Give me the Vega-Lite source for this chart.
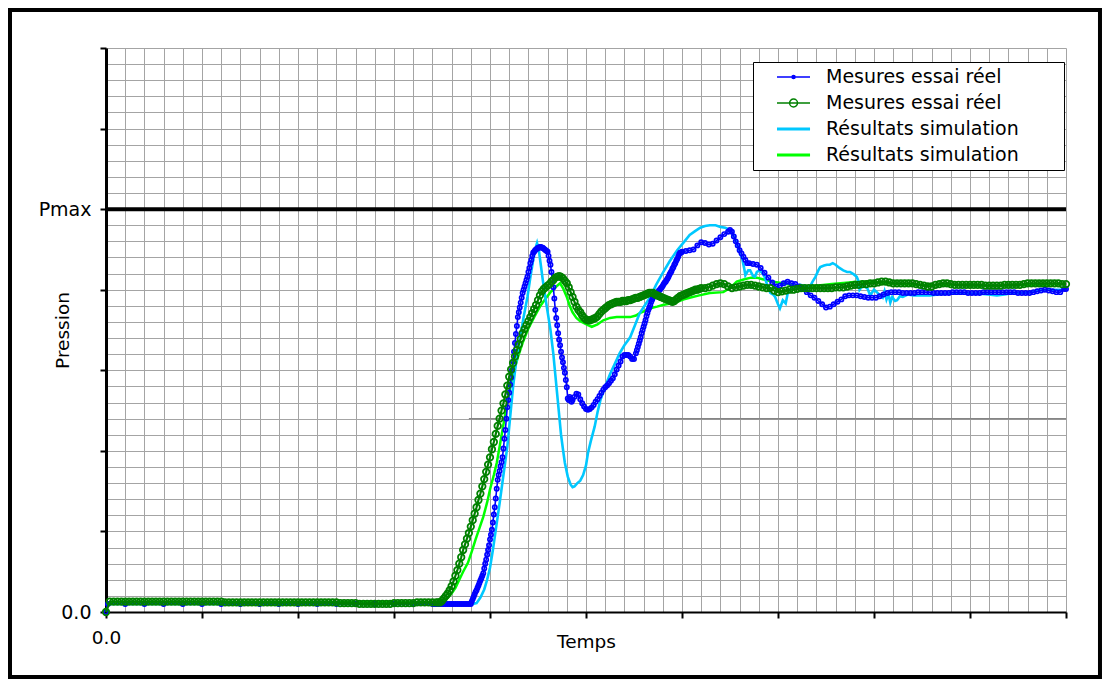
{
"$schema": "https://vega.github.io/schema/vega-lite/v6.json",
"width": 960, "height": 564,
"autosize": {"type": "none"},
"padding": {"left": 106, "top": 48, "right": 38, "bottom": 68},
"background": "white",
"config": {"view": {"stroke": null}, "font": "DejaVu Sans"},
"datasets": {
"blue": [
{"t":0,"v":0},{"t":0.02,"v":0.1},{"t":0.2,"v":0.1},{"t":0.4,"v":0.1},{"t":0.6,"v":0.1},{"t":0.8,"v":0.1},{"t":1,"v":0.1},{"t":1.2,"v":0.1},{"t":1.4,"v":0.1},{"t":1.6,"v":0.1},{"t":1.8,"v":0.1},{"t":2,"v":0.1},{"t":2.2,"v":0.1},{"t":2.4,"v":0.1},{"t":2.6,"v":0.1},{"t":2.8,"v":0.1},{"t":3,"v":0.1},{"t":3.2,"v":0.1},{"t":3.4,"v":0.1},
{"t":3.42,"v":0.1},{"t":3.44,"v":0.1},{"t":3.46,"v":0.1},{"t":3.48,"v":0.1},{"t":3.5,"v":0.1},{"t":3.52,"v":0.1},{"t":3.54,"v":0.1},{"t":3.56,"v":0.1},{"t":3.58,"v":0.1},{"t":3.6,"v":0.1},{"t":3.62,"v":0.1},{"t":3.64,"v":0.1},{"t":3.66,"v":0.1},{"t":3.68,"v":0.1},{"t":3.7,"v":0.1},{"t":3.72,"v":0.1},{"t":3.74,"v":0.1},{"t":3.76,"v":0.1},{"t":3.78,"v":0.1},{"t":3.8,"v":0.1},
{"t":3.81,"v":0.13},{"t":3.82,"v":0.16},{"t":3.83,"v":0.19},{"t":3.84,"v":0.22},{"t":3.85,"v":0.25},{"t":3.86,"v":0.27},{"t":3.87,"v":0.3},{"t":3.88,"v":0.33},{"t":3.89,"v":0.36},{"t":3.9,"v":0.39},
{"t":3.91,"v":0.42},{"t":3.92,"v":0.45},{"t":3.93,"v":0.48},{"t":3.94,"v":0.54},{"t":3.95,"v":0.6},{"t":3.96,"v":0.65},{"t":3.97,"v":0.71},{"t":3.98,"v":0.77},{"t":3.99,"v":0.83},{"t":4,"v":0.9},
{"t":4.01,"v":0.96},{"t":4.02,"v":1.02},{"t":4.03,"v":1.11},{"t":4.04,"v":1.21},{"t":4.05,"v":1.3},{"t":4.06,"v":1.41},{"t":4.07,"v":1.53},{"t":4.08,"v":1.64},{"t":4.09,"v":1.7},{"t":4.1,"v":1.75},
{"t":4.11,"v":1.81},{"t":4.12,"v":1.86},{"t":4.13,"v":1.92},{"t":4.14,"v":2.03},{"t":4.15,"v":2.15},{"t":4.16,"v":2.26},{"t":4.17,"v":2.4},{"t":4.18,"v":2.54},{"t":4.19,"v":2.63},{"t":4.2,"v":2.72},
{"t":4.21,"v":2.82},{"t":4.22,"v":2.91},{"t":4.23,"v":3},{"t":4.24,"v":3.11},{"t":4.25,"v":3.23},{"t":4.26,"v":3.34},{"t":4.27,"v":3.45},{"t":4.28,"v":3.55},{"t":4.29,"v":3.66},{"t":4.3,"v":3.72},
{"t":4.31,"v":3.78},{"t":4.32,"v":3.84},{"t":4.33,"v":3.9},{"t":4.34,"v":3.96},{"t":4.35,"v":4},{"t":4.36,"v":4.04},{"t":4.37,"v":4.08},{"t":4.38,"v":4.12},{"t":4.39,"v":4.16},{"t":4.4,"v":4.22},
{"t":4.41,"v":4.27},{"t":4.42,"v":4.33},{"t":4.43,"v":4.37},{"t":4.44,"v":4.42},{"t":4.45,"v":4.46},{"t":4.46,"v":4.47},{"t":4.47,"v":4.49},{"t":4.48,"v":4.5},{"t":4.49,"v":4.51},{"t":4.5,"v":4.52},
{"t":4.51,"v":4.52},{"t":4.52,"v":4.53},{"t":4.53,"v":4.53},{"t":4.54,"v":4.52},{"t":4.55,"v":4.52},{"t":4.56,"v":4.51},{"t":4.57,"v":4.5},{"t":4.58,"v":4.49},{"t":4.59,"v":4.48},{"t":4.6,"v":4.47},
{"t":4.61,"v":4.42},{"t":4.62,"v":4.36},{"t":4.63,"v":4.31},{"t":4.64,"v":4.22},{"t":4.65,"v":4.12},{"t":4.66,"v":4.03},{"t":4.67,"v":3.89},{"t":4.68,"v":3.75},{"t":4.69,"v":3.65},{"t":4.7,"v":3.56},
{"t":4.71,"v":3.46},{"t":4.72,"v":3.38},{"t":4.73,"v":3.31},{"t":4.74,"v":3.23},{"t":4.75,"v":3.16},{"t":4.76,"v":3.1},{"t":4.77,"v":3.03},{"t":4.78,"v":2.97},{"t":4.79,"v":2.88},{"t":4.8,"v":2.79},
{"t":4.81,"v":2.65},{"t":4.82,"v":2.63},{"t":4.83,"v":2.67},{"t":4.84,"v":2.65},{"t":4.85,"v":2.61},{"t":4.86,"v":2.63},
{"t":4.88,"v":2.67},{"t":4.9,"v":2.71},{"t":4.92,"v":2.7},{"t":4.94,"v":2.64},{"t":4.96,"v":2.59},{"t":4.98,"v":2.55},{"t":5,"v":2.52},{"t":5.02,"v":2.51},{"t":5.04,"v":2.52},{"t":5.06,"v":2.54},
{"t":5.08,"v":2.57},{"t":5.1,"v":2.61},{"t":5.12,"v":2.64},{"t":5.14,"v":2.68},{"t":5.16,"v":2.72},{"t":5.18,"v":2.76},{"t":5.2,"v":2.79},{"t":5.22,"v":2.81},{"t":5.24,"v":2.84},{"t":5.26,"v":2.87},
{"t":5.28,"v":2.9},{"t":5.3,"v":2.95},{"t":5.32,"v":3.01},{"t":5.34,"v":3.06},{"t":5.36,"v":3.11},{"t":5.38,"v":3.17},{"t":5.4,"v":3.19},{"t":5.42,"v":3.19},{"t":5.44,"v":3.19},{"t":5.46,"v":3.17},
{"t":5.48,"v":3.14},{"t":5.5,"v":3.14},{"t":5.52,"v":3.21},{"t":5.53,"v":3.25},{"t":5.54,"v":3.29},{"t":5.55,"v":3.33},{"t":5.56,"v":3.37},{"t":5.57,"v":3.41},{"t":5.58,"v":3.46},{"t":5.59,"v":3.5},
{"t":5.6,"v":3.54},{"t":5.61,"v":3.58},{"t":5.62,"v":3.62},{"t":5.63,"v":3.67},{"t":5.64,"v":3.71},{"t":5.65,"v":3.75},{"t":5.66,"v":3.78},{"t":5.67,"v":3.81},{"t":5.68,"v":3.85},{"t":5.69,"v":3.88},
{"t":5.7,"v":3.91},{"t":5.71,"v":3.92},{"t":5.72,"v":3.94},{"t":5.73,"v":3.95},{"t":5.74,"v":3.96},{"t":5.75,"v":3.97},{"t":5.76,"v":3.99},{"t":5.77,"v":4},{"t":5.78,"v":4.02},{"t":5.79,"v":4.03},
{"t":5.8,"v":4.05},{"t":5.81,"v":4.07},{"t":5.82,"v":4.09},{"t":5.83,"v":4.1},{"t":5.84,"v":4.12},{"t":5.85,"v":4.14},{"t":5.86,"v":4.16},{"t":5.87,"v":4.19},{"t":5.88,"v":4.21},{"t":5.89,"v":4.23},
{"t":5.9,"v":4.26},{"t":5.91,"v":4.28},{"t":5.92,"v":4.31},{"t":5.93,"v":4.33},{"t":5.94,"v":4.36},{"t":5.95,"v":4.38},{"t":5.96,"v":4.41},{"t":5.97,"v":4.44},{"t":5.98,"v":4.46},{"t":5.99,"v":4.46},
{"t":6,"v":4.47},{"t":6.04,"v":4.48},{"t":6.08,"v":4.49},{"t":6.12,"v":4.5},{"t":6.16,"v":4.55},{"t":6.2,"v":4.59},{"t":6.24,"v":4.58},{"t":6.28,"v":4.56},{"t":6.32,"v":4.57},{"t":6.36,"v":4.61},
{"t":6.4,"v":4.65},{"t":6.44,"v":4.69},{"t":6.48,"v":4.72},{"t":6.5,"v":4.74},{"t":6.52,"v":4.72},{"t":6.54,"v":4.66},{"t":6.56,"v":4.6},{"t":6.58,"v":4.55},{"t":6.6,"v":4.49},{"t":6.62,"v":4.45},
{"t":6.64,"v":4.41},{"t":6.66,"v":4.37},{"t":6.68,"v":4.33},{"t":6.7,"v":4.33},{"t":6.74,"v":4.32},{"t":6.78,"v":4.31},{"t":6.82,"v":4.27},{"t":6.86,"v":4.21},{"t":6.9,"v":4.15},{"t":6.94,"v":4.09},
{"t":6.98,"v":4.04},{"t":7.02,"v":4.05},{"t":7.06,"v":4.08},{"t":7.1,"v":4.1},{"t":7.14,"v":4.08},{"t":7.18,"v":4.07},{"t":7.22,"v":4.04},{"t":7.26,"v":4.01},{"t":7.3,"v":3.97},{"t":7.34,"v":3.93},
{"t":7.38,"v":3.9},{"t":7.42,"v":3.86},{"t":7.46,"v":3.82},{"t":7.5,"v":3.78},{"t":7.54,"v":3.79},{"t":7.58,"v":3.82},{"t":7.62,"v":3.85},{"t":7.66,"v":3.88},{"t":7.7,"v":3.92},{"t":7.74,"v":3.93},
{"t":7.78,"v":3.93},{"t":7.82,"v":3.93},{"t":7.86,"v":3.92},{"t":7.9,"v":3.91},{"t":7.94,"v":3.9},{"t":7.98,"v":3.9},{"t":8.02,"v":3.9},{"t":8.06,"v":3.92},{"t":8.1,"v":3.94},{"t":8.14,"v":3.96},
{"t":8.18,"v":3.97},{"t":8.22,"v":3.97},{"t":8.26,"v":3.97},{"t":8.3,"v":3.96},{"t":8.34,"v":3.96},{"t":8.38,"v":3.96},{"t":8.42,"v":3.96},{"t":8.46,"v":3.97},{"t":8.5,"v":3.97},{"t":8.54,"v":3.97},
{"t":8.58,"v":3.97},{"t":8.62,"v":3.96},{"t":8.66,"v":3.96},{"t":8.7,"v":3.96},{"t":8.74,"v":3.96},{"t":8.78,"v":3.96},{"t":8.82,"v":3.97},{"t":8.86,"v":3.97},{"t":8.9,"v":3.97},{"t":8.94,"v":3.97},
{"t":8.98,"v":3.96},{"t":9.02,"v":3.96},{"t":9.06,"v":3.96},{"t":9.1,"v":3.96},{"t":9.14,"v":3.97},{"t":9.18,"v":3.97},{"t":9.22,"v":3.97},{"t":9.26,"v":3.97},{"t":9.3,"v":3.97},{"t":9.34,"v":3.97},
{"t":9.38,"v":3.97},{"t":9.42,"v":3.97},{"t":9.46,"v":3.97},{"t":9.5,"v":3.96},{"t":9.54,"v":3.96},{"t":9.58,"v":3.96},{"t":9.62,"v":3.96},{"t":9.66,"v":3.97},{"t":9.7,"v":3.98},{"t":9.74,"v":3.99},
{"t":9.78,"v":4},{"t":9.82,"v":3.99},{"t":9.86,"v":3.98},{"t":9.9,"v":3.97},{"t":9.94,"v":3.97},{"t":9.98,"v":4.01},{"t":10,"v":4.01}
],
"green": [
{"t":0,"v":0},{"t":0.04,"v":0.13},{"t":0.08,"v":0.13},{"t":0.12,"v":0.13},{"t":0.16,"v":0.13},{"t":0.2,"v":0.13},{"t":0.24,"v":0.13},{"t":0.28,"v":0.13},{"t":0.32,"v":0.13},{"t":0.36,"v":0.13},{"t":0.4,"v":0.13},
{"t":0.44,"v":0.13},{"t":0.48,"v":0.13},{"t":0.52,"v":0.13},{"t":0.56,"v":0.13},{"t":0.6,"v":0.13},{"t":0.64,"v":0.13},{"t":0.68,"v":0.13},{"t":0.72,"v":0.13},{"t":0.76,"v":0.13},{"t":0.8,"v":0.13},
{"t":0.84,"v":0.13},{"t":0.88,"v":0.13},{"t":0.92,"v":0.13},{"t":0.96,"v":0.13},{"t":1,"v":0.13},{"t":1.04,"v":0.13},{"t":1.08,"v":0.13},{"t":1.12,"v":0.13},{"t":1.16,"v":0.13},{"t":1.2,"v":0.13},
{"t":1.24,"v":0.12},{"t":1.28,"v":0.12},{"t":1.32,"v":0.12},{"t":1.36,"v":0.12},{"t":1.4,"v":0.12},{"t":1.44,"v":0.12},{"t":1.48,"v":0.12},{"t":1.52,"v":0.12},{"t":1.56,"v":0.12},{"t":1.6,"v":0.12},
{"t":1.64,"v":0.12},{"t":1.68,"v":0.12},{"t":1.72,"v":0.12},{"t":1.76,"v":0.12},{"t":1.8,"v":0.12},{"t":1.84,"v":0.12},{"t":1.88,"v":0.12},{"t":1.92,"v":0.12},{"t":1.96,"v":0.12},{"t":2,"v":0.12},
{"t":2.04,"v":0.12},{"t":2.08,"v":0.12},{"t":2.12,"v":0.12},{"t":2.16,"v":0.12},{"t":2.2,"v":0.12},{"t":2.24,"v":0.12},{"t":2.28,"v":0.12},{"t":2.32,"v":0.12},{"t":2.36,"v":0.12},{"t":2.4,"v":0.12},
{"t":2.44,"v":0.11},{"t":2.48,"v":0.11},{"t":2.52,"v":0.11},{"t":2.56,"v":0.11},{"t":2.6,"v":0.11},{"t":2.64,"v":0.1},{"t":2.68,"v":0.1},{"t":2.72,"v":0.1},{"t":2.76,"v":0.1},{"t":2.8,"v":0.1},
{"t":2.84,"v":0.1},{"t":2.88,"v":0.1},{"t":2.92,"v":0.1},{"t":2.96,"v":0.1},{"t":3,"v":0.11},{"t":3.04,"v":0.11},{"t":3.08,"v":0.11},{"t":3.12,"v":0.11},{"t":3.16,"v":0.11},{"t":3.2,"v":0.11},
{"t":3.24,"v":0.12},{"t":3.28,"v":0.12},{"t":3.32,"v":0.12},{"t":3.36,"v":0.12},{"t":3.4,"v":0.12},{"t":3.44,"v":0.12},
{"t":3.46,"v":0.12},{"t":3.48,"v":0.12},{"t":3.5,"v":0.14},{"t":3.52,"v":0.17},{"t":3.54,"v":0.2},{"t":3.56,"v":0.23},{"t":3.58,"v":0.27},{"t":3.6,"v":0.32},{"t":3.62,"v":0.38},{"t":3.64,"v":0.45},
{"t":3.66,"v":0.52},{"t":3.68,"v":0.6},{"t":3.7,"v":0.68},{"t":3.72,"v":0.77},{"t":3.74,"v":0.84},{"t":3.76,"v":0.91},{"t":3.78,"v":0.98},{"t":3.8,"v":1.06},{"t":3.82,"v":1.14},{"t":3.84,"v":1.22},
{"t":3.86,"v":1.3},{"t":3.88,"v":1.39},{"t":3.9,"v":1.47},{"t":3.92,"v":1.56},{"t":3.94,"v":1.65},{"t":3.96,"v":1.74},{"t":3.98,"v":1.83},{"t":4,"v":1.92},{"t":4.02,"v":2.02},{"t":4.04,"v":2.11},
{"t":4.06,"v":2.21},{"t":4.08,"v":2.31},{"t":4.1,"v":2.4},{"t":4.12,"v":2.5},{"t":4.14,"v":2.59},{"t":4.16,"v":2.7},{"t":4.18,"v":2.81},{"t":4.2,"v":2.92},{"t":4.22,"v":3.01},{"t":4.24,"v":3.09},
{"t":4.26,"v":3.17},{"t":4.28,"v":3.25},{"t":4.3,"v":3.32},{"t":4.32,"v":3.39},{"t":4.34,"v":3.46},{"t":4.36,"v":3.51},{"t":4.38,"v":3.56},{"t":4.4,"v":3.61},{"t":4.42,"v":3.66},{"t":4.44,"v":3.71},
{"t":4.46,"v":3.76},{"t":4.48,"v":3.81},{"t":4.5,"v":3.87},{"t":4.52,"v":3.93},{"t":4.54,"v":3.98},{"t":4.56,"v":4.01},{"t":4.58,"v":4.03},{"t":4.6,"v":4.05},{"t":4.62,"v":4.07},{"t":4.64,"v":4.1},
{"t":4.66,"v":4.12},{"t":4.68,"v":4.15},{"t":4.7,"v":4.16},{"t":4.72,"v":4.17},{"t":4.74,"v":4.16},{"t":4.76,"v":4.14},{"t":4.78,"v":4.11},{"t":4.8,"v":4.08},{"t":4.82,"v":4.03},{"t":4.84,"v":3.97},
{"t":4.86,"v":3.91},{"t":4.88,"v":3.85},{"t":4.9,"v":3.79},{"t":4.92,"v":3.75},{"t":4.94,"v":3.72},{"t":4.96,"v":3.68},{"t":4.98,"v":3.65},{"t":5,"v":3.63},{"t":5.02,"v":3.62},{"t":5.04,"v":3.62},
{"t":5.06,"v":3.63},{"t":5.08,"v":3.64},{"t":5.1,"v":3.65},{"t":5.12,"v":3.67},{"t":5.14,"v":3.7},{"t":5.16,"v":3.73},{"t":5.18,"v":3.75},{"t":5.2,"v":3.77},{"t":5.22,"v":3.79},{"t":5.24,"v":3.81},
{"t":5.26,"v":3.82},{"t":5.28,"v":3.83},{"t":5.3,"v":3.84},{"t":5.32,"v":3.85},{"t":5.34,"v":3.85},{"t":5.36,"v":3.85},{"t":5.38,"v":3.86},{"t":5.4,"v":3.86},{"t":5.42,"v":3.86},{"t":5.44,"v":3.87},
{"t":5.46,"v":3.87},{"t":5.48,"v":3.88},{"t":5.5,"v":3.89},{"t":5.52,"v":3.9},{"t":5.54,"v":3.9},{"t":5.56,"v":3.91},{"t":5.58,"v":3.92},{"t":5.6,"v":3.93},{"t":5.62,"v":3.94},{"t":5.64,"v":3.95},
{"t":5.66,"v":3.96},{"t":5.68,"v":3.96},{"t":5.7,"v":3.96},{"t":5.72,"v":3.94},{"t":5.74,"v":3.93},{"t":5.76,"v":3.92},{"t":5.78,"v":3.91},{"t":5.8,"v":3.9},{"t":5.82,"v":3.89},{"t":5.84,"v":3.88},
{"t":5.86,"v":3.87},{"t":5.88,"v":3.86},{"t":5.9,"v":3.85},{"t":5.92,"v":3.86},{"t":5.94,"v":3.88},{"t":5.96,"v":3.9},{"t":5.98,"v":3.92},{"t":6,"v":3.93},{"t":6.02,"v":3.94},{"t":6.04,"v":3.95},
{"t":6.06,"v":3.96},{"t":6.08,"v":3.97},{"t":6.1,"v":3.98},{"t":6.12,"v":3.99},{"t":6.14,"v":4},{"t":6.16,"v":4},{"t":6.18,"v":4.01},{"t":6.2,"v":4.02},
{"t":6.24,"v":4.02},{"t":6.28,"v":4.03},{"t":6.32,"v":4.05},{"t":6.36,"v":4.07},{"t":6.4,"v":4.08},{"t":6.44,"v":4.07},{"t":6.48,"v":4.04},{"t":6.52,"v":4.02},{"t":6.56,"v":4.03},{"t":6.6,"v":4.04},
{"t":6.64,"v":4.05},{"t":6.68,"v":4.06},{"t":6.72,"v":4.06},{"t":6.76,"v":4.05},{"t":6.8,"v":4.04},{"t":6.84,"v":4.03},{"t":6.88,"v":4.02},{"t":6.92,"v":4.02},{"t":6.96,"v":3.99},{"t":7,"v":3.97},
{"t":7.04,"v":3.98},{"t":7.08,"v":3.99},{"t":7.12,"v":4},{"t":7.16,"v":4},{"t":7.2,"v":4.01},{"t":7.24,"v":4.02},{"t":7.28,"v":4.02},{"t":7.32,"v":4.02},{"t":7.36,"v":4.02},{"t":7.4,"v":4.02},
{"t":7.44,"v":4.02},{"t":7.48,"v":4.02},{"t":7.52,"v":4.02},{"t":7.56,"v":4.02},{"t":7.6,"v":4.03},{"t":7.64,"v":4.03},{"t":7.68,"v":4.03},{"t":7.72,"v":4.04},{"t":7.76,"v":4.05},{"t":7.8,"v":4.06},
{"t":7.84,"v":4.06},{"t":7.88,"v":4.07},{"t":7.92,"v":4.07},{"t":7.96,"v":4.08},{"t":8,"v":4.08},{"t":8.04,"v":4.09},{"t":8.08,"v":4.1},{"t":8.12,"v":4.1},{"t":8.16,"v":4.09},{"t":8.2,"v":4.08},
{"t":8.24,"v":4.08},{"t":8.28,"v":4.08},{"t":8.32,"v":4.08},{"t":8.36,"v":4.08},{"t":8.4,"v":4.08},{"t":8.44,"v":4.07},{"t":8.48,"v":4.06},{"t":8.52,"v":4.05},{"t":8.56,"v":4.04},{"t":8.6,"v":4.04},
{"t":8.64,"v":4.06},{"t":8.68,"v":4.07},{"t":8.72,"v":4.08},{"t":8.76,"v":4.08},{"t":8.8,"v":4.07},{"t":8.84,"v":4.06},{"t":8.88,"v":4.06},{"t":8.92,"v":4.06},{"t":8.96,"v":4.06},{"t":9,"v":4.06},
{"t":9.04,"v":4.06},{"t":9.08,"v":4.06},{"t":9.12,"v":4.06},{"t":9.16,"v":4.05},{"t":9.2,"v":4.05},{"t":9.24,"v":4.05},{"t":9.28,"v":4.05},{"t":9.32,"v":4.05},{"t":9.36,"v":4.06},{"t":9.4,"v":4.06},
{"t":9.44,"v":4.06},{"t":9.48,"v":4.06},{"t":9.52,"v":4.06},{"t":9.56,"v":4.07},{"t":9.6,"v":4.08},{"t":9.64,"v":4.08},{"t":9.68,"v":4.08},{"t":9.72,"v":4.08},{"t":9.76,"v":4.08},{"t":9.8,"v":4.08},
{"t":9.84,"v":4.08},{"t":9.88,"v":4.08},{"t":9.92,"v":4.08},{"t":9.96,"v":4.07},{"t":10,"v":4.07}
],
"cyan": [
{"t":0,"v":0.1},{"t":3.82,"v":0.1},{"t":3.86,"v":0.11},{"t":3.9,"v":0.18},{"t":3.94,"v":0.28},{"t":3.97,"v":0.4},{"t":4,"v":0.55},{"t":4.03,"v":0.77},{"t":4.06,"v":1.02},{"t":4.1,"v":1.35},
{"t":4.14,"v":1.7},{"t":4.18,"v":2.05},{"t":4.21,"v":2.42},{"t":4.24,"v":2.79},{"t":4.27,"v":3.08},{"t":4.31,"v":3.38},{"t":4.35,"v":3.66},{"t":4.39,"v":3.91},{"t":4.42,"v":4.15},{"t":4.45,"v":4.37},
{"t":4.47,"v":4.5},{"t":4.49,"v":4.58},{"t":4.51,"v":4.48},{"t":4.53,"v":4.3},{"t":4.55,"v":4.12},{"t":4.59,"v":3.8},{"t":4.63,"v":3.5},{"t":4.66,"v":3.2},{"t":4.68,"v":2.95},{"t":4.7,"v":2.7},
{"t":4.72,"v":2.45},{"t":4.74,"v":2.2},{"t":4.76,"v":2.02},{"t":4.78,"v":1.85},{"t":4.81,"v":1.68},{"t":4.84,"v":1.58},{"t":4.86,"v":1.55},{"t":4.88,"v":1.56},{"t":4.91,"v":1.6},{"t":4.94,"v":1.63},
{"t":4.97,"v":1.7},{"t":5,"v":1.82},{"t":5.02,"v":1.97},{"t":5.05,"v":2.12},{"t":5.09,"v":2.3},{"t":5.12,"v":2.48},{"t":5.15,"v":2.63},{"t":5.2,"v":2.8},{"t":5.25,"v":2.95},{"t":5.3,"v":3.08},
{"t":5.35,"v":3.21},{"t":5.4,"v":3.31},{"t":5.46,"v":3.41},{"t":5.51,"v":3.56},{"t":5.56,"v":3.71},{"t":5.62,"v":3.82},{"t":5.67,"v":3.91},{"t":5.73,"v":4.06},{"t":5.8,"v":4.21},{"t":5.87,"v":4.35},
{"t":5.95,"v":4.49},{"t":6.02,"v":4.59},{"t":6.08,"v":4.68},{"t":6.14,"v":4.73},{"t":6.19,"v":4.77},{"t":6.24,"v":4.79},{"t":6.29,"v":4.8},{"t":6.35,"v":4.8},{"t":6.4,"v":4.78},{"t":6.45,"v":4.77},
{"t":6.5,"v":4.74},{"t":6.54,"v":4.66},{"t":6.57,"v":4.58},{"t":6.6,"v":4.47},{"t":6.63,"v":4.37},{"t":6.65,"v":4.25},{"t":6.66,"v":4.18},{"t":6.69,"v":4.24},{"t":6.71,"v":4.24},{"t":6.74,"v":4.17},
{"t":6.76,"v":4.16},{"t":6.78,"v":4.22},{"t":6.81,"v":4.24},{"t":6.84,"v":4.2},{"t":6.86,"v":4.16},{"t":6.89,"v":4.05},{"t":6.92,"v":3.96},{"t":6.95,"v":3.94},{"t":6.97,"v":3.91},{"t":7,"v":3.82},
{"t":7.02,"v":3.77},{"t":7.05,"v":3.87},{"t":7.08,"v":3.83},{"t":7.1,"v":3.95},{"t":7.13,"v":4},{"t":7.18,"v":4.04},{"t":7.23,"v":4.06},{"t":7.28,"v":4.05},{"t":7.33,"v":4.03},{"t":7.36,"v":4.1},
{"t":7.39,"v":4.16},{"t":7.42,"v":4.24},{"t":7.44,"v":4.28},{"t":7.48,"v":4.3},{"t":7.51,"v":4.31},{"t":7.54,"v":4.31},{"t":7.57,"v":4.33},{"t":7.6,"v":4.31},{"t":7.64,"v":4.27},{"t":7.68,"v":4.24},
{"t":7.72,"v":4.22},{"t":7.75,"v":4.22},{"t":7.79,"v":4.19},{"t":7.82,"v":4.16},{"t":7.84,"v":4.1},{"t":7.85,"v":4},{"t":7.88,"v":4.05},{"t":7.93,"v":4.02},{"t":7.96,"v":3.93},{"t":8,"v":4},
{"t":8.03,"v":3.97},{"t":8.06,"v":3.93},{"t":8.09,"v":3.9},{"t":8.11,"v":3.98},{"t":8.13,"v":3.88},{"t":8.15,"v":3.95},{"t":8.17,"v":3.84},{"t":8.19,"v":3.91},{"t":8.22,"v":3.86},{"t":8.24,"v":3.87},
{"t":8.27,"v":3.92},{"t":8.3,"v":3.91},{"t":8.35,"v":3.94},{"t":8.41,"v":3.93},{"t":8.5,"v":3.93},{"t":8.58,"v":3.93},{"t":8.67,"v":3.94},{"t":8.76,"v":3.95},{"t":8.85,"v":3.95},{"t":8.93,"v":3.96},
{"t":9.02,"v":3.95},{"t":9.1,"v":3.95},{"t":9.19,"v":3.94},{"t":9.28,"v":3.93},{"t":9.36,"v":3.94},{"t":9.45,"v":3.96},{"t":9.54,"v":3.96},{"t":9.63,"v":3.97},{"t":9.72,"v":3.99},{"t":9.8,"v":4},
{"t":9.9,"v":4},{"t":9.97,"v":4}
],
"lime": [
{"t":0,"v":0.12},{"t":3.48,"v":0.12},{"t":3.52,"v":0.14},{"t":3.56,"v":0.18},{"t":3.6,"v":0.23},{"t":3.64,"v":0.3},{"t":3.68,"v":0.4},{"t":3.72,"v":0.5},{"t":3.77,"v":0.61},{"t":3.81,"v":0.75},
{"t":3.85,"v":0.9},{"t":3.89,"v":1.04},{"t":3.93,"v":1.18},{"t":3.97,"v":1.36},{"t":4,"v":1.52},{"t":4.04,"v":1.7},{"t":4.07,"v":1.85},{"t":4.1,"v":2.05},{"t":4.13,"v":2.26},{"t":4.17,"v":2.53},
{"t":4.21,"v":2.79},{"t":4.25,"v":3},{"t":4.29,"v":3.16},{"t":4.34,"v":3.34},{"t":4.4,"v":3.52},{"t":4.46,"v":3.66},{"t":4.52,"v":3.79},{"t":4.58,"v":3.89},{"t":4.63,"v":3.97},{"t":4.66,"v":4},
{"t":4.7,"v":4.05},{"t":4.73,"v":4.08},{"t":4.76,"v":4.02},{"t":4.8,"v":3.91},{"t":4.83,"v":3.8},{"t":4.86,"v":3.72},{"t":4.9,"v":3.65},{"t":4.94,"v":3.61},{"t":4.97,"v":3.59},{"t":5.02,"v":3.56},
{"t":5.06,"v":3.54},{"t":5.12,"v":3.57},{"t":5.18,"v":3.62},{"t":5.25,"v":3.65},{"t":5.32,"v":3.66},{"t":5.4,"v":3.66},{"t":5.46,"v":3.66},{"t":5.52,"v":3.68},{"t":5.56,"v":3.71},{"t":5.62,"v":3.74},
{"t":5.67,"v":3.77},{"t":5.74,"v":3.79},{"t":5.8,"v":3.81},{"t":5.88,"v":3.83},{"t":5.95,"v":3.85},{"t":6.02,"v":3.88},{"t":6.08,"v":3.9},{"t":6.18,"v":3.93},{"t":6.29,"v":3.96},{"t":6.43,"v":3.97},
{"t":6.5,"v":4.02},{"t":6.57,"v":4.1},{"t":6.65,"v":4.13},{"t":6.72,"v":4.15},{"t":6.78,"v":4.15},{"t":6.87,"v":4.12},{"t":6.95,"v":4.1},{"t":7.05,"v":4.08},{"t":7.13,"v":4.06},{"t":7.22,"v":4.04},
{"t":7.3,"v":4.03},{"t":7.38,"v":4.05},{"t":7.47,"v":4.06},{"t":7.56,"v":4.07},{"t":7.65,"v":4.08},{"t":7.74,"v":4.09},{"t":7.82,"v":4.1},{"t":7.9,"v":4.1},{"t":7.99,"v":4.1},{"t":8.07,"v":4.09},
{"t":8.14,"v":4.08},{"t":8.3,"v":4.07},{"t":8.5,"v":4.06},{"t":8.7,"v":4.06},{"t":8.9,"v":4.06},{"t":9.1,"v":4.05},{"t":9.3,"v":4.05},{"t":9.5,"v":4.06},{"t":9.7,"v":4.06},{"t":9.9,"v":4.07},{"t":10,"v":4.07}
],
"series": [{"s":"m1"},{"s":"m2"},{"s":"s1"},{"s":"s2"}]
},
"layer": [
{
 "data": {"name": "lime"},
 "mark": {"type": "line", "color": "#00ff00", "strokeWidth": 2.5},
 "encoding": {
  "x": {"field": "t", "type": "quantitative", "scale": {"domain": [0, 10], "nice": false, "zero": false},
   "axis": {"values": [0,0.2,0.4,0.6,0.8,1,1.2,1.4,1.6,1.8,2,2.2,2.4,2.6,2.8,3,3.2,3.4,3.6,3.8,4,4.2,4.4,4.6,4.8,5,5.2,5.4,5.6,5.8,6,6.2,6.4,6.6,6.8,7,7.2,7.4,7.6,7.8,8,8.2,8.4,8.6,8.8,9,9.2,9.4,9.6,9.8,10],
    "tickCount": 500,
    "grid": true, "gridColor": "#a4a4a4", "gridWidth": 1, "gridOpacity": 1,
    "domainColor": "black", "domainWidth": 2,
    "tickSize": 6, "tickWidth": 2,
    "tickColor": {"condition": {"test": "abs(datum.value - round(datum.value)) < 0.01", "value": "black"}, "value": "transparent"},
    "labelExpr": "datum.value == 0 ? '0.0' : ''",
    "labelFlush": false, "labelOverlap": false, "labelBound": false,
    "labelFont": "DejaVu Sans", "labelFontSize": 18.5, "labelColor": "black",
    "labelBaseline": "alphabetic", "labelPadding": 25,
    "title": "Temps", "titleFont": "DejaVu Sans", "titleFontSize": 18.5, "titleFontWeight": "normal", "titleColor": "black",
    "titleBaseline": "alphabetic", "titleY": 35}},
  "y": {"field": "v", "type": "quantitative", "scale": {"domain": [0, 7], "nice": false, "zero": false},
   "axis": {"values": [0,0.2,0.4,0.6,0.8,1,1.2,1.4,1.6,1.8,2,2.2,2.4,2.6,2.8,3,3.2,3.4,3.6,3.8,4,4.2,4.4,4.6,4.8,5,5.2,5.4,5.6,5.8,6,6.2,6.4,6.6,6.8,7],
    "tickCount": 500,
    "grid": true, "gridColor": "#a4a4a4", "gridWidth": 1, "gridOpacity": 1,
    "domainColor": "black", "domainWidth": 3,
    "tickSize": 6, "tickWidth": 2,
    "tickColor": {"condition": {"test": "abs(datum.value - round(datum.value)) < 0.01", "value": "black"}, "value": "transparent"},
    "labelExpr": "datum.value == 0 ? '0.0' : (abs(datum.value - 5) < 0.01 ? 'Pmax' : '')",
    "labelFlush": false, "labelOverlap": false, "labelBound": false,
    "labelFont": "DejaVu Sans", "labelFontSize": 19, "labelColor": "black", "labelPadding": 9,
    "title": "Pression", "titleFont": "DejaVu Sans", "titleFontSize": 18.5, "titleFontWeight": "normal", "titleColor": "black",
    "titleBaseline": "alphabetic", "titleX": -38}}
 }
},
{
 "data": {"values": [{}]},
 "mark": {"type": "rule", "color": "#858585", "strokeWidth": 1.5},
 "encoding": {"x": {"datum": 3.78, "type": "quantitative", "scale": {"domain": [0, 10]}}, "x2": {"datum": 10}, "y": {"datum": 2.4, "type": "quantitative", "scale": {"domain": [0, 7]}}}
},
{
 "data": {"values": [{}]},
 "mark": {"type": "rule", "color": "black", "strokeWidth": 4},
 "encoding": {"y": {"datum": 5, "type": "quantitative", "scale": {"domain": [0, 7]}}}
},
{
 "data": {"name": "cyan"},
 "mark": {"type": "line", "color": "#00c8ff", "strokeWidth": 2.6},
 "encoding": {
  "x": {"field": "t", "type": "quantitative", "scale": {"domain": [0, 10]}},
  "y": {"field": "v", "type": "quantitative", "scale": {"domain": [0, 7]}}
 }
},
{
 "data": {"name": "blue"},
 "mark": {"type": "line", "color": "#0000ff", "strokeWidth": 1.6, "point": {"filled": false, "size": 18, "strokeWidth": 1.7, "color": "#0000ff"}},
 "encoding": {
  "x": {"field": "t", "type": "quantitative", "scale": {"domain": [0, 10]}},
  "y": {"field": "v", "type": "quantitative", "scale": {"domain": [0, 7]}}
 }
},
{
 "data": {"name": "green"},
 "mark": {"type": "line", "color": "#008000", "strokeWidth": 2.2, "point": {"filled": false, "size": 42, "strokeWidth": 1.8, "color": "#008000"}},
 "encoding": {
  "x": {"field": "t", "type": "quantitative", "scale": {"domain": [0, 10]}},
  "y": {"field": "v", "type": "quantitative", "scale": {"domain": [0, 7]}}
 }
},
{
 "data": {"values": [{}]},
 "mark": {"type": "rect", "fillOpacity": 0, "stroke": "black", "strokeWidth": 4, "clip": false},
 "encoding": {
  "x": {"datum": -1.0, "type": "quantitative", "scale": {"domain": [0, 10]}},
  "x2": {"datum": 10.354},
  "y": {"datum": 7.472, "type": "quantitative", "scale": {"domain": [0, 7]}},
  "y2": {"datum": -0.807}
 }
},
{
 "data": {"name": "series"},
 "mark": {"type": "point", "filled": false, "opacity": 0},
 "encoding": {
  "color": {"field": "s", "type": "nominal",
   "scale": {"domain": ["m1","m2","s1","s2"], "range": ["#0000ff","#008000","#00c8ff","#00ff00"]},
   "legend": {"title": "ii", "titleOrient": "right", "titleColor": "white", "titleFontSize": 19, "titlePadding": 26,
    "orient": "none", "legendX": 647, "legendY": 14,
    "fillColor": "white", "strokeColor": "black", "padding": 5, "rowPadding": 6,
    "labelFont": "DejaVu Sans", "labelFontSize": 19, "labelColor": "black", "labelLimit": 500, "labelOffset": 48,
    "symbolSize": 324, "symbolStrokeWidth": 1.5, "symbolOpacity": 1,
    "labelExpr": "datum.label == 'm1' || datum.label == 'm2' ? 'Mesures essai réel' : 'Résultats simulation'"}},
  "shape": {"field": "s", "type": "nominal",
   "scale": {"domain": ["m1","m2","s1","s2"], "range": ["M1.0,0H4.67M3.01,0A0.17,0.17,0,1,1,2.67,0A0.17,0.17,0,1,1,3.01,0", "M1.0,0H4.67M3.28,0A0.44,0.44,0,1,1,2.4,0A0.44,0.44,0,1,1,3.28,0", "M1.0,-0.07H4.67M1.0,0.07H4.67", "M1.0,-0.07H4.67M1.0,0.07H4.67"]},
   "legend": {"title": "ii", "titleOrient": "right", "titleColor": "white", "titleFontSize": 19, "titlePadding": 26,
    "orient": "none", "legendX": 647, "legendY": 14,
    "fillColor": "white", "strokeColor": "black", "padding": 5, "rowPadding": 6,
    "labelFont": "DejaVu Sans", "labelFontSize": 19, "labelColor": "black", "labelLimit": 500, "labelOffset": 48,
    "symbolSize": 324, "symbolStrokeWidth": 1.5, "symbolOpacity": 1,
    "labelExpr": "datum.label == 'm1' || datum.label == 'm2' ? 'Mesures essai réel' : 'Résultats simulation'"}}
 }
}
]
}
